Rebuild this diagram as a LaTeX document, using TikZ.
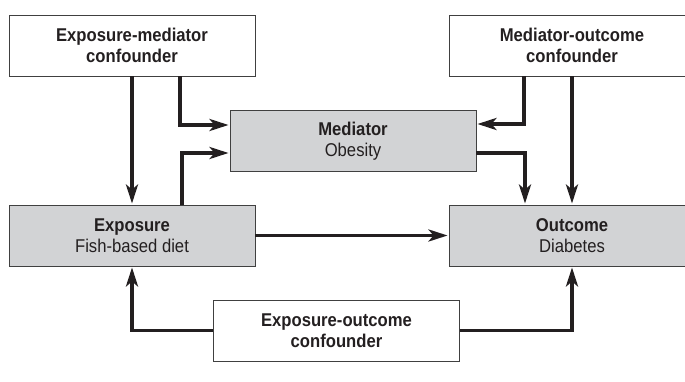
\documentclass[tikz,border=0pt]{standalone}
\usepackage{fontspec}
\setmainfont{Liberation Sans}[FakeStretch=0.9]
\usetikzlibrary{arrows.meta,positioning}
\definecolor{boxgray}{RGB}{210,211,213}
\definecolor{ink}{RGB}{35,31,32}

\begin{document}
\begin{tikzpicture}[x=1pt,y=1pt,shorten >=1pt,on grid,
    box/.style={draw=black!75,line width=0.9pt,minimum width=246pt,minimum height=61pt,
      align=center,text=ink,font=\fontsize{18.5}{21.5}\selectfont},
    var/.style={box,fill=boxgray},
    link/.style={-{Stealth[length=19pt,width=12pt,inset=5pt]},line width=3.5pt,draw=ink}]
        \useasboundingbox (0,0) rectangle (685,-382);
        \node[var] (exp) at (132,-235.5) {\textbf{Exposure}\\Fish-based diet};
        \node[var] (out) [right=440pt of exp] {\textbf{Outcome}\\Diabetes};
        \node[var] (med) [above right=94.5pt and 221pt of exp] {\textbf{Mediator}\\Obesity};
        \node[box] (em) [above=190pt of exp] {\textbf{Exposure-mediator}\\\textbf{confounder}};
        \node[box] (mo) [above=190pt of out] {\textbf{Mediator-outcome}\\\textbf{confounder}};
        \node[box] (eo) [below right=95pt and 204.5pt of exp] {\textbf{Exposure-outcome}\\\textbf{confounder}};
        \draw[link] (em) -- (exp);
        \draw[link] ([xshift=48pt]em.south) |- ([yshift=16pt]med.west);
        \draw[link] ([xshift=50pt]exp.north) |- ([yshift=-12pt]med.west);
        \draw[link] ([xshift=-48pt]mo.south) |- ([yshift=17pt]med.east);
        \draw[link] ([yshift=-12pt]med.east) -| ([xshift=-47pt]out.north);
        \draw[link] (mo) -- (out);
        \draw[link] (exp) -- (out);
        \draw[link] (eo) -| (exp);
        \draw[link] (eo) -| (out);
\end{tikzpicture}
\end{document}
